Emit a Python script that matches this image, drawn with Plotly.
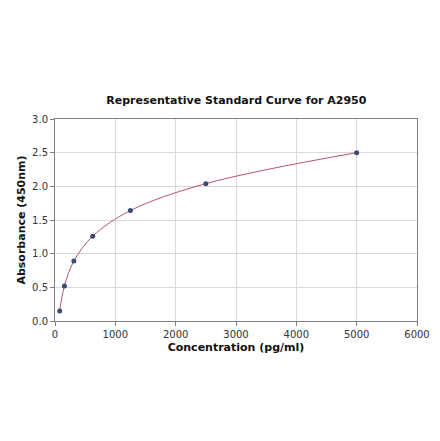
import plotly.graph_objects as go

# standard concentrations and measured absorbance
conc = [78, 156, 312.5, 625, 1250, 2500, 5000]
absorb = [0.15, 0.52, 0.89, 1.26, 1.64, 2.04, 2.50]

x_ticks = [0, 1000, 2000, 3000, 4000, 5000, 6000]
y_ticks = [0.0, 0.5, 1.0, 1.5, 2.0, 2.5, 3.0]

fig = go.Figure()

# smooth fitted curve drawn by plotly's spline through the standards
fig.add_trace(go.Scatter(x=conc, y=absorb, mode='lines',
                         line=dict(color='#b5546f', width=1, shape='spline', smoothing=1.0),
                         hoverinfo='skip', showlegend=False))

fig.add_trace(go.Scatter(x=conc, y=absorb, mode='markers',
                         marker=dict(color='#3b4a6e', size=5),
                         showlegend=False))

axis_style = dict(showline=True, linecolor='#808080', linewidth=1, mirror=True,
                  showgrid=True, gridcolor='#d9d9d9', gridwidth=1,
                  ticks='outside', ticklen=4, tickcolor='#808080',
                  tickfont=dict(family='DejaVu Sans', size=10, color='#333333'),
                  zeroline=False)

fig.update_xaxes(range=[0, 6000], tickvals=x_ticks,
                 ticktext=[str(v) for v in x_ticks],
                 title=dict(text='<b>Concentration (pg/ml)</b>',
                            font=dict(family='DejaVu Sans', size=11, color='#111111'),
                            standoff=4),
                 **axis_style)
fig.update_yaxes(range=[0, 3.0], tickvals=y_ticks,
                 ticktext=[f'{v:.1f}' for v in y_ticks],
                 title=dict(text='<b>Absorbance (450nm)</b>',
                            font=dict(family='DejaVu Sans', size=11, color='#111111'),
                            standoff=4),
                 **axis_style)

fig.update_layout(
    width=440, height=441,
    paper_bgcolor='white', plot_bgcolor='white',
    margin=dict(l=47, r=31, t=111, b=128),
    title=dict(text='<b>Representative Standard Curve for A2950</b>',
               font=dict(family='DejaVu Sans', size=11, color='#111111'),
               x=0.519, xanchor='center', y=0.791, yanchor='middle'),
)

fig.write_html("out.html")
